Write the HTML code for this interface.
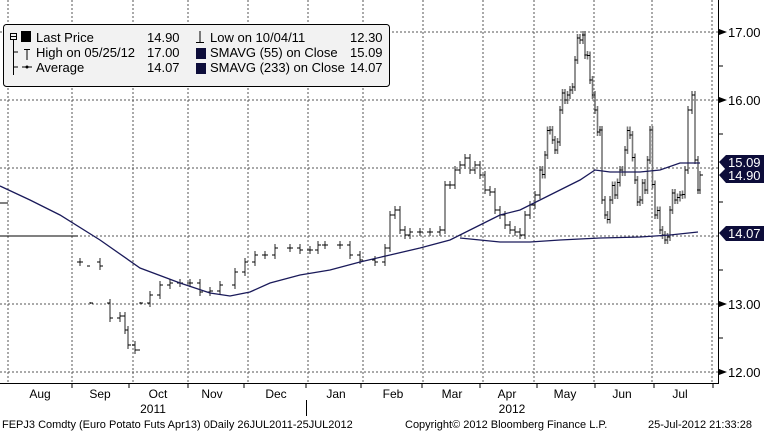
<!DOCTYPE html>
<html><head><meta charset="utf-8"><style>
body{margin:0;width:764px;height:432px;background:#fff;overflow:hidden;font-family:"Liberation Sans",sans-serif}
</style></head><body>
<svg width="764" height="432" xmlns="http://www.w3.org/2000/svg" font-family="Liberation Sans, sans-serif">
<g stroke="#555" stroke-dasharray="2,2" stroke-width="1">
<line x1="8" y1="0" x2="8" y2="383"/><line x1="72" y1="0" x2="72" y2="383"/><line x1="133" y1="0" x2="133" y2="383"/><line x1="188" y1="0" x2="188" y2="383"/><line x1="248" y1="0" x2="248" y2="383"/><line x1="308" y1="0" x2="308" y2="383"/><line x1="363" y1="0" x2="363" y2="383"/><line x1="423" y1="0" x2="423" y2="383"/><line x1="483" y1="0" x2="483" y2="383"/><line x1="534" y1="0" x2="534" y2="383"/><line x1="594" y1="0" x2="594" y2="383"/><line x1="652" y1="0" x2="652" y2="383"/><line x1="712" y1="0" x2="712" y2="383"/>
<line x1="0" y1="32" x2="718" y2="32"/><line x1="0" y1="100" x2="718" y2="100"/><line x1="0" y1="168" x2="718" y2="168"/><line x1="0" y1="236" x2="718" y2="236"/><line x1="0" y1="304" x2="718" y2="304"/><line x1="0" y1="372" x2="718" y2="372"/>
</g>
<line x1="718.5" y1="0" x2="718.5" y2="384" stroke="#000"/>
<line x1="0" y1="383.5" x2="719" y2="383.5" stroke="#000"/>
<g stroke="#000"><line x1="718" y1="66" x2="723" y2="66"/><line x1="718" y1="134" x2="723" y2="134"/><line x1="718" y1="202" x2="723" y2="202"/><line x1="718" y1="270" x2="723" y2="270"/><line x1="718" y1="338" x2="723" y2="338"/></g>
<g fill="#000"><polygon points="719,29 727,32 719,35"/><polygon points="719,97 727,100 719,103"/><polygon points="719,301 727,304 719,307"/><polygon points="719,369 727,372 719,375"/></g>
<g font-size="13" fill="#000"><text x="728" y="37">17.00</text><text x="728" y="105">16.00</text><text x="728" y="309">13.00</text><text x="728" y="377">12.00</text></g>
<g id="bars" stroke="#777" stroke-width="1.6" fill="none"></g>
<path d="M0,186 L30,200 L60,215 L100,240 L140,268 L180,283 L210,293 L230,296 L250,292 L270,283 L300,275 L330,270 L360,262 L390,255 L420,248 L450,240 L480,225 L500,215 L520,210 L540,200 L560,190 L580,180 L595,170 L610,172 L640,172 L660,170 L680,163 L700,163" stroke="#1a1a5a" stroke-width="1.3" fill="none"/>
<path d="M460,238 L500,242 L530,242 L560,240 L600,238 L640,237 L670,235 L698,232" stroke="#1a1a5a" stroke-width="1.3" fill="none"/>
<line x1="0" y1="236" x2="78" y2="236" stroke="#000"/>
<line x1="0" y1="203" x2="8" y2="203" stroke="#000"/>
<g font-size="13" fill="#fff">
<polygon points="719,162 726,155 764,155 764,170 726,170" fill="#0d0d3a"/><text x="728" y="167">15.09</text>
<polygon points="719,175 726,168 764,168 764,183 726,183" fill="#0d0d3a"/><text x="728" y="180">14.90</text>
<polygon points="719,233 726,226 764,226 764,241 726,241" fill="#0d0d3a"/><text x="728" y="238">14.07</text>
</g>
<rect x="3.5" y="24.5" width="386" height="62" rx="3" fill="#f2f2f2" stroke="#000"/>
<g font-size="13" fill="#000">
<rect x="21" y="31" width="10" height="11"/><rect x="196" y="48" width="10" height="11" fill="#0d0d3a"/><rect x="196" y="63" width="10" height="11" fill="#0d0d3a"/>
<text x="36" y="42">Last Price</text><text x="147" y="42">14.90</text>
<text x="36" y="57">High on 05/25/12</text><text x="147" y="57">17.00</text>
<text x="36" y="72">Average</text><text x="147" y="72">14.07</text>
<text x="210" y="42">Low on 10/04/11</text><text x="350" y="42">12.30</text>
<text x="210" y="57">SMAVG (55) on Close</text><text x="350" y="57">15.09</text>
<text x="210" y="72">SMAVG (233) on Close</text><text x="350" y="72">14.07</text>
</g>
<g stroke="#000" fill="none"><rect x="10.5" y="33.5" width="6" height="6"/><line x1="11" y1="36.5" x2="16" y2="36.5"/><line x1="13.5" y1="40" x2="13.5" y2="75"/><line x1="14" y1="52" x2="18" y2="52"/><line x1="14" y1="67" x2="18" y2="67"/><line x1="22" y1="67" x2="32" y2="67"/><line x1="24" y1="49.5" x2="30" y2="49.5"/><line x1="27" y1="49" x2="27" y2="60"/><line x1="200" y1="31" x2="200" y2="42"/><line x1="196" y1="42.5" x2="204" y2="42.5"/></g>
<circle cx="27" cy="67" r="1.5"/>
<g font-size="12" fill="#000" text-anchor="middle">
<text x="40" y="398">Aug</text><text x="100" y="398">Sep</text><text x="158" y="398">Oct</text><text x="212" y="398">Nov</text><text x="276" y="398">Dec</text><text x="336" y="398">Jan</text><text x="393" y="398">Feb</text><text x="452" y="398">Mar</text><text x="507" y="398">Apr</text><text x="565" y="398">May</text><text x="622" y="398">Jun</text><text x="680" y="398">Jul</text>
<text x="153" y="413">2011</text><text x="512" y="413">2012</text>
</g>
<g stroke="#000"><line x1="72" y1="384" x2="72" y2="388"/><line x1="129" y1="384" x2="129" y2="388"/><line x1="188" y1="384" x2="188" y2="388"/><line x1="244" y1="384" x2="244" y2="388"/><line x1="306" y1="384" x2="306" y2="388"/><line x1="361" y1="384" x2="361" y2="388"/><line x1="422" y1="384" x2="422" y2="388"/><line x1="480" y1="384" x2="480" y2="388"/><line x1="537" y1="384" x2="537" y2="388"/><line x1="595" y1="384" x2="595" y2="388"/><line x1="654" y1="384" x2="654" y2="388"/><line x1="713" y1="384" x2="713" y2="388"/><line x1="306.5" y1="400" x2="306.5" y2="416"/></g>
<g font-size="11" fill="#000"><text x="2" y="428">FEPJ3 Comdty (Euro Potato Futs  Apr13) 0Daily 26JUL2011-25JUL2012</text><text x="405" y="428">Copyright© 2012 Bloomberg Finance L.P.</text><text x="648" y="428">25-Jul-2012 21:33:28</text></g>
</svg>
<script>
var p=[[80,262],[100,266],[90,303],[110,318],[120,316],[125,330],[128,345],[135,350],[140,303],[150,295],[160,285],[170,283],[180,283],[190,283],[200,292],[210,291],[220,285],[235,272],[245,262],[255,255],[265,255],[275,248],[290,248],[300,250],[310,250],[318,245],[325,245],[340,245],[350,255],[360,260],[375,262],[385,248],[390,215],[395,210],[400,230],[405,235],[410,232],[420,232],[430,232],[440,230],[445,185],[450,185],[455,170],[460,165],[465,158],[470,170],[475,165],[480,175],[485,190],[490,192],[495,210],[500,215],[505,225],[510,230],[515,232],[520,235],[525,215],[530,205],[535,195],[540,170],[545,155],[550,130],[555,150],[560,110],[565,100],[570,90],[575,60],[580,40],[583,35],[585,55],[590,80],[595,110],[600,130],[602,200],[605,215],[610,200],[615,195],[620,170],[625,150],[630,135],[635,180],[640,200],[645,190],[650,130],[655,215],[660,230],[665,240],[670,210],[675,200],[680,195],[685,170],[688,110],[692,95],[695,160],[698,190],[700,175]];
var q=[];for(var i=0;i<p.length;i++){q.push(p[i]);if(p[i][0]>=540&&i+1<p.length&&p[i+1][0]-p[i][0]>=5){q.push([p[i][0]+2.5,(p[i][1]+p[i+1][1])/2+((i%3)-1)*12]);}}
var g=document.getElementById('bars'),s='',prev=q[0][1];
for(var i=0;i<q.length;i++){var x=q[i][0],y=q[i][1];var lo=Math.max(y,prev)+4,hi=Math.min(y,prev)-4;
if(x<390&&Math.abs(y-prev)>20){lo=y+1;hi=y-1;}
s+='<line x1="'+x+'" y1="'+hi+'" x2="'+x+'" y2="'+lo+'"/><line x1="'+(x-3)+'" y1="'+prev+'" x2="'+x+'" y2="'+prev+'" stroke="#000" stroke-width="1"/><line x1="'+x+'" y1="'+y+'" x2="'+(x+3)+'" y2="'+y+'" stroke="#000" stroke-width="1"/>';prev=y;}
g.innerHTML=s;
</script>
</body></html>
